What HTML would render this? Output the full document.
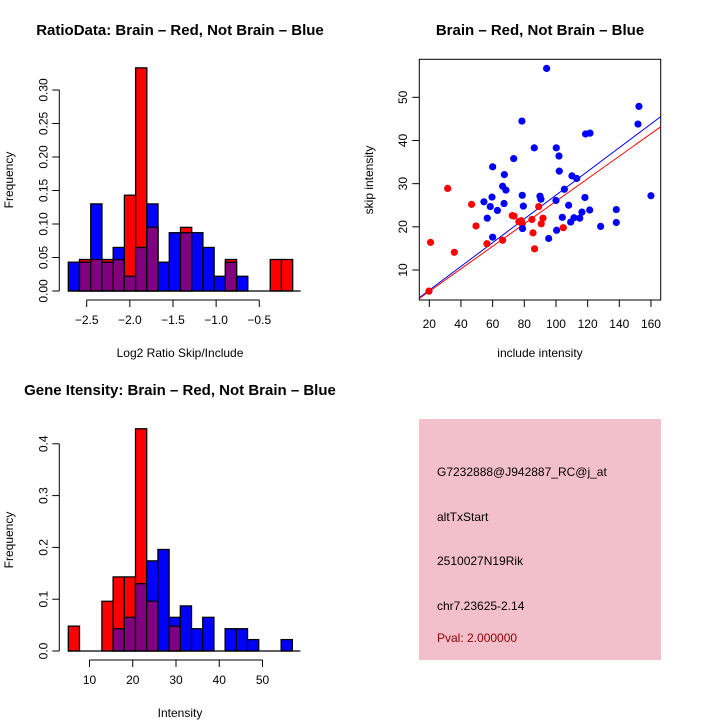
<!DOCTYPE html>
<html><head><meta charset="utf-8"><style>
body{margin:0;background:#fff}
svg{display:block;font-family:"Liberation Sans",sans-serif}
</style></head><body>
<svg id="s" width="720" height="720" viewBox="0 0 720 720">
<rect width="720" height="720" fill="#fff"/>
<text x="180" y="35" font-size="15" font-weight="bold" text-anchor="middle">RatioData: Brain – Red, Not Brain – Blue</text>
<text x="540" y="35" font-size="15" font-weight="bold" text-anchor="middle">Brain – Red, Not Brain – Blue</text>
<text x="180" y="395" font-size="15" font-weight="bold" text-anchor="middle">Gene Itensity: Brain – Red, Not Brain – Blue</text>
<text x="180" y="357" font-size="12" text-anchor="middle">Log2 Ratio Skip/Include</text>
<text transform="translate(13,180) rotate(-90)" font-size="12" text-anchor="middle">Frequency</text>
<text x="540" y="357" font-size="12" text-anchor="middle">include intensity</text>
<text transform="translate(373,180) rotate(-90)" font-size="12" text-anchor="middle">skip intensity</text>
<text x="180" y="717" font-size="12" text-anchor="middle">Intensity</text>
<text transform="translate(13,540) rotate(-90)" font-size="12" text-anchor="middle">Frequency</text>
<g>
<rect x="419" y="419" width="242" height="241" fill="#f3bfcb"/>
<text x="437" y="476" font-size="12">G7232888@J942887_RC@j_at</text>
<text x="437" y="521" font-size="12">altTxStart</text>
<text x="437" y="565" font-size="12">2510027N19Rik</text>
<text x="437" y="610" font-size="12">chr7.23625-2.14</text>
<text x="437" y="642" font-size="12" fill="#8b0000">Pval: 2.000000</text>
</g>
<g id="g"></g>
</svg>
<script>
// Ratio histogram data
const ratioRed = [0,0.047,0.047,0.047,0.047,0.143,0.333,0.095,0,0,0.095,0,0,0,0.047,0,0,0,0.047,0.047];
const ratioBlue = [0.043,0.043,0.13,0.043,0.065,0.022,0.065,0.13,0.043,0.087,0.087,0.087,0.065,0.022,0.043,0.022,0,0,0,0];
const ratioBinStart = [-2.713];
const ratioBinWidth = [0.13];
const ratioXTicks = [-2.5,-2.0,-1.5,-1.0,-0.5];
const ratioXLabels = ["\u22122.5","\u22122.0","\u22121.5","\u22121.0","\u22120.5"];
const ratioYTicks = [0,0.05,0.10,0.15,0.20,0.25,0.30];
const ratioYLabels = ["0.00","0.05","0.10","0.15","0.20","0.25","0.30"];
// Intensity histogram data
const intRed = [0.048,0,0,0.096,0.143,0.143,0.429,0.096,0,0.048,0,0,0,0,0,0,0,0,0,0];
const intBlue = [0,0,0,0,0.043,0.065,0.13,0.174,0.196,0.065,0.087,0.043,0.065,0,0.043,0.043,0.022,0,0,0.022];
const intBinStart = [5.1];
const intBinWidth = [2.59];
const intXTicks = [10,20,30,40,50];
const intYTicks = [0,0.1,0.2,0.3,0.4];
const intYLabels = ["0.0","0.1","0.2","0.3","0.4"];
// Scatter data
const redX = [19.8,20.8,31.6,35.8,46.7,49.5,56.4,66.3,72.4,73.5,76.6,78.1,78.7,84.8,85.5,86.5,89.1,90.7,91.8,104.6];
const redY = [5.1,16.4,28.9,14.1,25.2,20.2,16.1,16.9,22.6,22.5,21.2,21.4,20.7,21.7,18.6,14.9,24.7,20.7,22.0,19.8];
const blueX = [94.1,54.5,56.6,58.5,59.6,60.0,60.0,63.0,66.3,67.4,68.4,67.2,73.3,78.5,78.7,79.4,78.9,86.3,89.9,90.5,95.4,100,100.2,100.4,101.9,102.1,104,105.3,108,109.3,110.1,111.4,113.1,115,116.4,118.3,118.7,121.5,121.3,128.2,138.1,138.1,151.8,152.4,160];
const blueY = [56.7,25.8,22.0,24.7,26.9,33.9,17.6,23.8,29.4,32.1,28.5,25.4,35.8,44.5,27.3,24.8,19.6,38.3,27.1,26.4,17.3,26.1,38.3,19.2,36.4,32.9,22.2,28.7,25.0,21.1,31.8,22.1,31.2,22.0,23.4,26.8,41.5,41.7,23.9,20.1,24.0,21.0,43.8,47.9,27.2];
const fitBlue = [-0.17,0.275];
const fitRed = [-0.18,0.261];
const scXTicks = [20,40,60,80,100,120,140,160];
const scYTicks = [10,20,30,40,50];

const NS="http://www.w3.org/2000/svg";
const G=document.getElementById('g');
function mk(t,a,p){const e=document.createElementNS(NS,t);for(const k in a)e.setAttribute(k,a[k]);(p||G).appendChild(e);return e;}

function hist(red,blue,start,width,sx,sy,x0px,base,xt,xl,yt,yl,axisY,name){
  const X=v=>x0px+(v-start)*sx;
  const Y=v=>base-v*sy;
  for(let i=0;i<red.length;i++){
    const a=start+i*width,b=a+width;
    const r=red[i],bl=blue[i];
    const mx=Math.max(r,bl),mn=Math.min(r,bl);
    if(mx>0){
      const e=mk('rect',{x:X(a),y:Y(mx),width:X(b)-X(a),height:Y(0)-Y(mx),fill:r>=bl?'#ff0000':'#0000ff',stroke:'#000','stroke-width':1.3});
      
      
    }
    if(mn>0){
      const e=mk('rect',{x:X(a),y:Y(mn),width:X(b)-X(a),height:Y(0)-Y(mn),fill:'#800080',stroke:'#000','stroke-width':1.3});
      
      
    }
  }
  const endX=X(start+width*red.length);
  const bl=mk('line',{x1:X(start),x2:endX+8,y1:base,y2:base,stroke:'#000','stroke-width':1.3});
  
  
  const xa=mk('line',{x1:X(xt[0]),x2:X(xt[xt.length-1]),y1:axisY,y2:axisY,stroke:'#000','stroke-width':1});
  
  
  xt.forEach((v,i)=>{
    mk('line',{x1:X(v),x2:X(v),y1:axisY,y2:axisY+7,stroke:'#000'});
    const t=mk('text',{x:X(v),y:axisY+24,'font-size':12,'text-anchor':'middle'});
    t.textContent=xl[i];
    
    
  });
  const ax=59.3;
  const ya=mk('line',{x1:ax,x2:ax,y1:Y(yt[0]),y2:Y(yt[yt.length-1]),stroke:'#000'});
  
  
  yt.forEach((v,i)=>{
    mk('line',{x1:ax-7,x2:ax,y1:Y(v),y2:Y(v),stroke:'#000'});
    const t=mk('text',{transform:`translate(${ax-12},${Y(v)}) rotate(-90)`,'font-size':12,'text-anchor':'middle'});
    t.textContent=yl[i];
    
    
  });
}
hist(ratioRed,ratioBlue,ratioBinStart[0],ratioBinWidth[0],86.3,670,68.3,291,ratioXTicks,ratioXLabels,ratioYTicks,ratioYLabels,300,'ratio');
hist(intRed,intBlue,intBinStart[0],intBinWidth[0],4.325,518,68.3,651,intXTicks,intXTicks.map(String),intYTicks,intYLabels,660,'intensity');

// scatter
const SX=v=>429.3+(v-20)*1.5833;
const SY=v=>270-(v-10)*4.317;
const box=mk('rect',{x:419.3,y:59.3,width:241.4,height:240.7,fill:'none',stroke:'#000'});


scXTicks.forEach(v=>{
  mk('line',{x1:SX(v),x2:SX(v),y1:300,y2:307,stroke:'#000'});
  const t=mk('text',{x:SX(v),y:328,'font-size':12,'text-anchor':'middle'});
  t.textContent=v;
  
  
});
scYTicks.forEach(v=>{
  mk('line',{x1:412.3,x2:419.3,y1:SY(v),y2:SY(v),stroke:'#000'});
  const t=mk('text',{transform:`translate(407,${SY(v)}) rotate(-90)`,'font-size':12,'text-anchor':'middle'});
  t.textContent=v;
  
  
});
const clip=mk('clipPath',{id:'cp'});
mk('rect',{x:419.3,y:59.3,width:241.4,height:240.7},clip);
function fit(c,col,name){
  const x1=13.7,x2=166.1;
  const l=mk('line',{x1:SX(x1),y1:SY(c[0]+c[1]*x1),x2:SX(x2),y2:SY(c[0]+c[1]*x2),stroke:col,'stroke-width':1,'clip-path':'url(#cp)'});
  
  
}
fit(fitBlue,'#0000ff','blue-fit-line');
fit(fitRed,'#ff0000','red-fit-line');
redX.forEach((x,i)=>{
  const c=mk('circle',{cx:SX(x),cy:SY(redY[i]),r:3.6,fill:'#ff0000'});
  
  
});
blueX.forEach((x,i)=>{
  const c=mk('circle',{cx:SX(x),cy:SY(blueY[i]),r:3.6,fill:'#0000ff'});
  
  
});
</script>
</body></html>
